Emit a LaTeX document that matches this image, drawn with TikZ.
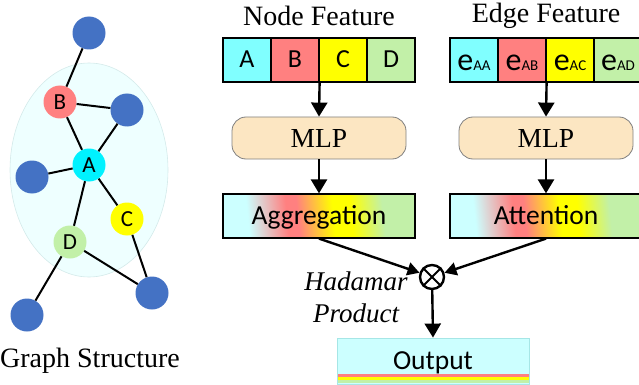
\documentclass[tikz,border=0pt]{standalone}
\usepackage{fontspec}
\setmainfont{Liberation Serif}
\setsansfont{Carlito}
\usetikzlibrary{arrows.meta,shapes.geometric}

% palette
\definecolor{gblueC}{HTML}{4472C4}
\definecolor{gA}{HTML}{00F2FF}
\definecolor{cA}{HTML}{80FFFF}
\definecolor{cB}{HTML}{FF8080}
\definecolor{cC}{HTML}{FFFF00}
\definecolor{cD}{HTML}{C2F0A8}
\definecolor{clusterfill}{HTML}{EEFFFF}
\definecolor{clusterline}{HTML}{D4EAEA}
\definecolor{mlpfill}{HTML}{FCE6C2}
\definecolor{mlpline}{HTML}{808080}
\definecolor{outfill}{HTML}{CCFFFF}
\definecolor{outline}{HTML}{A6E6E6}
\definecolor{mixcy}{HTML}{CCFFFF}
\definecolor{mixor}{HTML}{FFC040}

% diagonal colour ramp used by the aggregation / attention boxes
\pgfdeclarehorizontalshading{featmix}{100bp}{%
  color(0bp)=(mixcy); color(30bp)=(mixcy); color(41bp)=(cB);
  color(44bp)=(cB); color(49bp)=(mixor); color(54bp)=(cC); color(59bp)=(cC);
  color(68bp)=(cD); color(100bp)=(cD)}

\tikzset{
  gedge/.style={line width=2pt, black},
  gblue/.style={circle, fill=gblueC, minimum size=33pt, inner sep=0pt},
  gnode/.style={circle, minimum size=33pt, inner sep=0pt,
    font=\sffamily\fontsize{23}{23}\selectfont},
  titletext/.style={font=\fontsize{28}{32}\selectfont},
  cellbox/.style={draw=black, line width=1.2pt, minimum width=48pt,
    minimum height=44pt, inner sep=0pt, text height=15.5pt, text depth=0pt,
    font=\sffamily\fontsize{26}{26}\selectfont},
  ecell/.style={cellbox, text height=21pt},
  mlpbox/.style={draw=mlpline, line width=0.8pt, fill=mlpfill,
    rounded corners=14pt, minimum width=174pt, minimum height=42pt,
    font=\fontsize{27.5}{30}\selectfont},
  gradbox/.style={draw=black, line width=1.2pt, shade, shading=featmix,
    shading angle=6, minimum width=192pt, minimum height=44pt,
    text height=17.5pt, text depth=0pt,
    font=\sffamily\fontsize{27.5}{30}\selectfont},
  arr/.style={line width=2.4pt, -{Triangle[length=14pt,width=16pt]}},
  arrsm/.style={line width=2.4pt, -{Triangle[length=12pt,width=13pt]}},
}
% feature symbol: large e with a small index on the same baseline
\newcommand{\esub}[1]{{\fontsize{32}{32}\selectfont e}{\fontsize{15}{15}\selectfont #1}}

\begin{document}
\begin{tikzpicture}[x=1pt, y=-1pt]
\useasboundingbox (0,0) rectangle (639,385);

% ---------------- graph structure ----------------
\node[ellipse, draw=clusterline, fill=clusterfill, line width=0.6pt,
  minimum width=158pt, minimum height=214pt, inner sep=0pt] (cluster) at (89,170) {};

\node[gblue] (n1) at (89,33) {};
\node[gnode, fill=cB] (B) at (60,102) {B};
\node[gblue] (n2) at (127,110) {};
\node[gnode, fill=gA] (A) at (89,165) {A};
\node[gblue] (n3) at (32,177) {};
\node[gnode, fill=cC] (C) at (127,219) {C};
\node[gnode, fill=cD] (D) at (70,242) {D};
\node[gblue] (n4) at (152,293) {};
\node[gblue] (n5) at (27,315) {};

\draw[gedge] (n1) -- (B);
\draw[gedge] (B) -- (n2);
\draw[gedge] (B) -- (A);
\draw[gedge] (A) -- (n2);
\draw[gedge] (A) -- (n3);
\draw[gedge] (A) -- (C);
\draw[gedge] (A) -- (D);
\draw[gedge] (D) -- (n5);
\draw[gedge] (D) -- (n4);
\draw[gedge] (C) -- (n4);

\node[titletext] (gcap) at (90,360.5) {Graph Structure};

% ---------------- node feature branch ----------------
\node[titletext] (ntitle) at (319,16) {Node Feature};
\node[cellbox, fill=cA] (na) at (247,60) {A};
\node[cellbox, fill=cB] (nb) at (295,60) {B};
\node[cellbox, fill=cC] (nc) at (343,60) {C};
\node[cellbox, fill=cD] (nd) at (391,60) {D};

\node[mlpbox] (mlp1) at (319,138) {MLP};
\node[gradbox] (agg) at (319,216) {Aggregation};

\draw[arr] (nb.south east) -- (mlp1.north);
\draw[arr] (mlp1.south) -- (agg.north);

% ---------------- edge feature branch ----------------
\node[titletext] (etitle) at (546,16) {Edge Feature};
\node[ecell, fill=cA] (ea) at (474,60) {\esub{AA}};
\node[ecell, fill=cB] (eb) at (522,60) {\esub{AB}};
\node[ecell, fill=cC] (ec) at (570,60) {\esub{AC}};
\node[ecell, fill=cD] (ed) at (618,60) {\esub{AD}};

\node[mlpbox] (mlp2) at (546,138) {MLP};
\node[gradbox] (att) at (546,216) {Attention};

\draw[arr] (eb.south east) -- (mlp2.north);
\draw[arr] (mlp2.south) -- (att.north);

% ---------------- hadamard product and output ----------------
\node[circle, draw, line width=2.4pt, minimum size=24pt, inner sep=0pt] (prod) at (432,277) {};
\draw[line width=2pt] (prod.north west) -- (prod.south east);
\draw[line width=2pt] (prod.north east) -- (prod.south west);

\draw[arrsm] (agg.south) -- (prod);
\draw[arrsm] (att.south) -- (prod);

\node[font=\itshape\fontsize{27}{32}\selectfont, align=center] (hlabel) at (356,297) {Hadamar\\Product};

\node[draw=outline, fill=outfill, line width=0.8pt, minimum width=192pt,
  minimum height=46pt, inner sep=0pt] (out) at (433,361) {};
\fill[cB] (337.5,374.3) rectangle (528.5,376.7);
\fill[cC] (337.5,376.7) rectangle (528.5,380);
\fill[cD] (337.5,380) rectangle (528.5,382.6);
\node[font=\sffamily\fontsize{27.5}{30}\selectfont, anchor=base] (otext) at (433,369) {Output};

\draw[arr] (prod) -- (out.north);
\end{tikzpicture}
\end{document}
